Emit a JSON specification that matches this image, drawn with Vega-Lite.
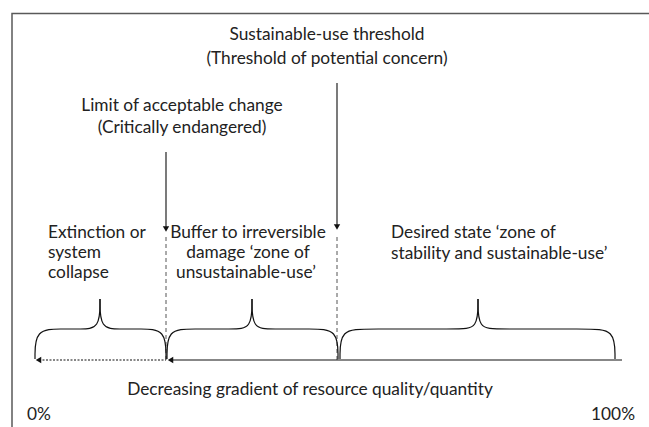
{
  "$schema": "https://vega.github.io/schema/vega-lite/v6.json",
  "width": 649,
  "height": 427,
  "autosize": {"type": "none"},
  "padding": 0,
  "background": "white",
  "config": {"view": {"stroke": null}, "text": {"font": "Lato"}},
  "datasets": {
    "frame": [
      {"seq": 1, "x": 649, "y": 13.5},
      {"seq": 2, "x": 12, "y": 13.5},
      {"seq": 3, "x": 12, "y": 427}
    ],
    "arrows": [
      {"x": 166, "y": 152, "y2": 229},
      {"x": 337, "y": 83, "y2": 227}
    ],
    "arrowTips": [
      {"x": 166, "y": 229},
      {"x": 337, "y": 227}
    ],
    "dashes": [
      {"x": 166, "y": 237, "y2": 360},
      {"x": 337, "y": 237, "y2": 360}
    ],
    "solidBase": [{"x": 171, "x2": 622, "y": 360}],
    "dottedBase": [{"x": 39, "x2": 166, "y": 360}],
    "baseTips": [
      {"x": 38.5, "y": 360},
      {"x": 170.5, "y": 360}
    ],
    "braces": [
      {"piece": "b1L", "seq": 1, "x": 35, "y": 359},
      {"piece": "b1L", "seq": 2, "x": 35, "y": 329},
      {"piece": "b1L", "seq": 3, "x": 62, "y": 329},
      {"piece": "b1L", "seq": 4, "x": 80, "y": 329},
      {"piece": "b1L", "seq": 5, "x": 100, "y": 329},
      {"piece": "b1L", "seq": 6, "x": 100, "y": 299},
      {"piece": "b1R", "seq": 1, "x": 100, "y": 299},
      {"piece": "b1R", "seq": 2, "x": 100, "y": 329},
      {"piece": "b1R", "seq": 3, "x": 120, "y": 329},
      {"piece": "b1R", "seq": 4, "x": 140, "y": 329},
      {"piece": "b1R", "seq": 5, "x": 166, "y": 329},
      {"piece": "b1R", "seq": 6, "x": 166, "y": 359},
      {"piece": "b2L", "seq": 1, "x": 167, "y": 359},
      {"piece": "b2L", "seq": 2, "x": 167, "y": 329},
      {"piece": "b2L", "seq": 3, "x": 193, "y": 329},
      {"piece": "b2L", "seq": 4, "x": 232, "y": 329},
      {"piece": "b2L", "seq": 5, "x": 252, "y": 329},
      {"piece": "b2L", "seq": 6, "x": 252, "y": 299},
      {"piece": "b2R", "seq": 1, "x": 252, "y": 299},
      {"piece": "b2R", "seq": 2, "x": 252, "y": 329},
      {"piece": "b2R", "seq": 3, "x": 272, "y": 329},
      {"piece": "b2R", "seq": 4, "x": 311, "y": 329},
      {"piece": "b2R", "seq": 5, "x": 338, "y": 329},
      {"piece": "b2R", "seq": 6, "x": 338, "y": 359},
      {"piece": "b3L", "seq": 1, "x": 340, "y": 359},
      {"piece": "b3L", "seq": 2, "x": 340, "y": 329},
      {"piece": "b3L", "seq": 3, "x": 368, "y": 329},
      {"piece": "b3L", "seq": 4, "x": 458, "y": 329},
      {"piece": "b3L", "seq": 5, "x": 478, "y": 329},
      {"piece": "b3L", "seq": 6, "x": 478, "y": 299},
      {"piece": "b3R", "seq": 1, "x": 478, "y": 299},
      {"piece": "b3R", "seq": 2, "x": 478, "y": 329},
      {"piece": "b3R", "seq": 3, "x": 498, "y": 329},
      {"piece": "b3R", "seq": 4, "x": 587, "y": 329},
      {"piece": "b3R", "seq": 5, "x": 615, "y": 329},
      {"piece": "b3R", "seq": 6, "x": 615, "y": 359}
    ],
    "centerText": [
      {"x": 327, "y": 35, "text": "Sustainable-use threshold"},
      {"x": 327, "y": 59, "text": "(Threshold of potential concern)"},
      {"x": 182, "y": 106, "text": "Limit of acceptable change"},
      {"x": 182, "y": 128, "text": "(Critically endangered)"},
      {"x": 248, "y": 233, "text": "Buffer to irreversible"},
      {"x": 248, "y": 253, "text": "damage ‘zone of"},
      {"x": 246, "y": 273, "text": "unsustainable-use’"},
      {"x": 310, "y": 390, "text": "Decreasing gradient of resource quality/quantity"}
    ],
    "leftText": [
      {"x": 48, "y": 233, "text": "Extinction or"},
      {"x": 48, "y": 253, "text": "system"},
      {"x": 48, "y": 273, "text": "collapse"},
      {"x": 391, "y": 233, "text": "Desired state ‘zone of"},
      {"x": 391, "y": 254, "text": "stability and sustainable-use’"},
      {"x": 27, "y": 415, "text": "0%"}
    ],
    "rightText": [
      {"x": 635, "y": 415, "text": "100%"}
    ]
  },
  "layer": [
    {
      "data": {"name": "frame"},
      "mark": {"type": "line", "color": "#595959", "strokeWidth": 1.5},
      "encoding": {
        "x": {"field": "x", "type": "quantitative", "scale": {"domain": [0, 649], "nice": false, "zero": false}, "axis": null},
        "y": {"field": "y", "type": "quantitative", "scale": {"domain": [0, 427], "nice": false, "zero": false, "reverse": true}, "axis": null},
        "order": {"field": "seq"}
      }
    },
    {
      "data": {"name": "dashes"},
      "mark": {"type": "rule", "color": "#555555", "strokeWidth": 1, "strokeDash": [4, 3]},
      "encoding": {
        "x": {"field": "x", "type": "quantitative", "scale": {"domain": [0, 649], "nice": false, "zero": false}, "axis": null},
        "y": {"field": "y", "type": "quantitative", "scale": {"domain": [0, 427], "nice": false, "zero": false, "reverse": true}, "axis": null},
        "y2": {"field": "y2"}
      }
    },
    {
      "data": {"name": "arrows"},
      "mark": {"type": "rule", "color": "#222222", "strokeWidth": 1.2},
      "encoding": {
        "x": {"field": "x", "type": "quantitative", "scale": {"domain": [0, 649], "nice": false, "zero": false}, "axis": null},
        "y": {"field": "y", "type": "quantitative", "scale": {"domain": [0, 427], "nice": false, "zero": false, "reverse": true}, "axis": null},
        "y2": {"field": "y2"}
      }
    },
    {
      "data": {"name": "arrowTips"},
      "mark": {"type": "point", "shape": "triangle-down", "filled": true, "color": "#111111", "size": 40, "opacity": 1},
      "encoding": {
        "x": {"field": "x", "type": "quantitative", "scale": {"domain": [0, 649], "nice": false, "zero": false}, "axis": null},
        "y": {"field": "y", "type": "quantitative", "scale": {"domain": [0, 427], "nice": false, "zero": false, "reverse": true}, "axis": null}
      }
    },
    {
      "data": {"name": "solidBase"},
      "mark": {"type": "rule", "color": "#111111", "strokeWidth": 1.2},
      "encoding": {
        "x": {"field": "x", "type": "quantitative", "scale": {"domain": [0, 649], "nice": false, "zero": false}, "axis": null},
        "x2": {"field": "x2"},
        "y": {"field": "y", "type": "quantitative", "scale": {"domain": [0, 427], "nice": false, "zero": false, "reverse": true}, "axis": null}
      }
    },
    {
      "data": {"name": "dottedBase"},
      "mark": {"type": "rule", "color": "#111111", "strokeWidth": 1.1, "strokeDash": [2, 1.5]},
      "encoding": {
        "x": {"field": "x", "type": "quantitative", "scale": {"domain": [0, 649], "nice": false, "zero": false}, "axis": null},
        "x2": {"field": "x2"},
        "y": {"field": "y", "type": "quantitative", "scale": {"domain": [0, 427], "nice": false, "zero": false, "reverse": true}, "axis": null}
      }
    },
    {
      "data": {"name": "baseTips"},
      "mark": {"type": "point", "shape": "triangle-left", "filled": true, "color": "#111111", "size": 40, "opacity": 1},
      "encoding": {
        "x": {"field": "x", "type": "quantitative", "scale": {"domain": [0, 649], "nice": false, "zero": false}, "axis": null},
        "y": {"field": "y", "type": "quantitative", "scale": {"domain": [0, 427], "nice": false, "zero": false, "reverse": true}, "axis": null}
      }
    },
    {
      "data": {"name": "braces"},
      "mark": {"type": "line", "interpolate": "basis", "color": "#111111", "strokeWidth": 1.2},
      "encoding": {
        "x": {"field": "x", "type": "quantitative", "scale": {"domain": [0, 649], "nice": false, "zero": false}, "axis": null},
        "y": {"field": "y", "type": "quantitative", "scale": {"domain": [0, 427], "nice": false, "zero": false, "reverse": true}, "axis": null},
        "detail": {"field": "piece", "type": "nominal"},
        "order": {"field": "seq"}
      }
    },
    {
      "data": {"name": "centerText"},
      "mark": {"type": "text", "align": "center", "baseline": "middle", "fontSize": 17.3, "color": "#222222"},
      "encoding": {
        "x": {"field": "x", "type": "quantitative", "scale": {"domain": [0, 649], "nice": false, "zero": false}, "axis": null},
        "y": {"field": "y", "type": "quantitative", "scale": {"domain": [0, 427], "nice": false, "zero": false, "reverse": true}, "axis": null},
        "text": {"field": "text"}
      }
    },
    {
      "data": {"name": "leftText"},
      "mark": {"type": "text", "align": "left", "baseline": "middle", "fontSize": 17.3, "color": "#222222"},
      "encoding": {
        "x": {"field": "x", "type": "quantitative", "scale": {"domain": [0, 649], "nice": false, "zero": false}, "axis": null},
        "y": {"field": "y", "type": "quantitative", "scale": {"domain": [0, 427], "nice": false, "zero": false, "reverse": true}, "axis": null},
        "text": {"field": "text"}
      }
    },
    {
      "data": {"name": "rightText"},
      "mark": {"type": "text", "align": "right", "baseline": "middle", "fontSize": 17.3, "color": "#222222"},
      "encoding": {
        "x": {"field": "x", "type": "quantitative", "scale": {"domain": [0, 649], "nice": false, "zero": false}, "axis": null},
        "y": {"field": "y", "type": "quantitative", "scale": {"domain": [0, 427], "nice": false, "zero": false, "reverse": true}, "axis": null},
        "text": {"field": "text"}
      }
    }
  ]
}
